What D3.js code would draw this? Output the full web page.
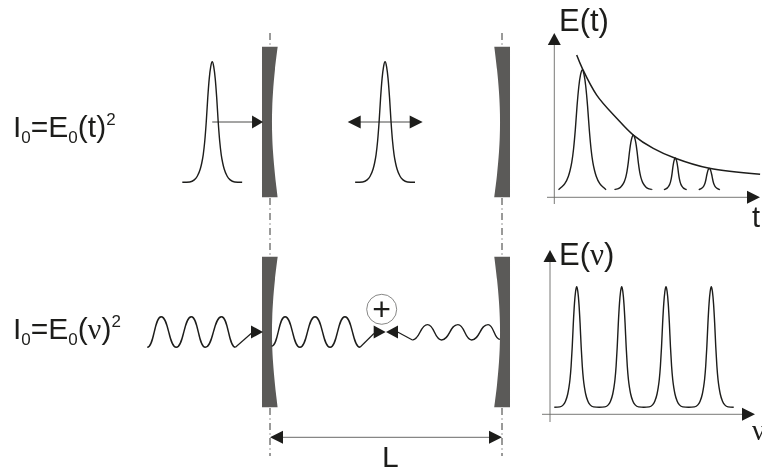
<!DOCTYPE html>
<html>
<head>
<meta charset="utf-8">
<script src="https://cdn.jsdelivr.net/npm/d3@7"></script>
<style>
    html, body { margin: 0; padding: 0; background: #fff; }
    svg { display: block; filter: blur(0.3px); }
    text { font-family: "Liberation Sans", Arial, sans-serif; fill: #1d1d1b; }
    .nu { font-family: "Liberation Serif", serif; }
</style>
</head>
<body>
<div id="grafico"></div>
<script>
// forma del pulso normalizada (desde el centro hacia fuera)
const pulseOffset = [0, 0.05, 0.1, 0.15, 0.2, 0.25, 0.3, 0.35, 0.4, 0.5, 0.6, 0.75, 1];
const pulseHeight = [1, 0.96, 0.86, 0.7, 0.5, 0.34, 0.23, 0.16, 0.11, 0.05, 0.02, 0.003, 0];

// pulsos del esquema de la cavidad (0 = espejo izq, 100 = espejo der)
const cavityPulseCenter = [-24.9, 49.6];
const cavityPulseHalfWidth = [12.9, 12.9];

// panel E(t)
const timeCenter = [14, 39.5, 60.5, 77.5];
const timePeak = [79.6, 38.9, 24.6, 18.1];
const timeHalfWidth = [17.5, 12.5, 8.2, 8.2];
const timeExtent = [11.9, 9.4, 5.7, 5.3];
const timeBase = 4.75;
const envelopeT = [11.2, 14, 21.2, 31.2, 39.5, 49.5, 60.5, 77.5, 102.9];
const envelopeE = [88.9, 80.6, 63.9, 49.4, 38.9, 30.6, 24.4, 18.1, 14.4];

// panel E(nu)
const freqCenter = [13.35, 35.85, 58, 80.65];
const freqPeak = [79.75, 79.75, 79.75, 79.75];
const freqHalfWidth = 11.2;
const freqBase = 4.4;

// ondas: extremos, el ultimo punto es el tramo recto hasta la flecha
const waveInX = [-52.9, -46.9, -40.4, -33.9, -27.9, -20.9, -14.9, -7.4];
const waveInV = [-1, 1, -1, 1, -1, 1, -1, 0];
const waveMidX = [0.7, 6.5, 12.9, 19.4, 25.9, 32.3, 38.8, 44.8];
const waveMidV = [-0.92, 1, -1, 1, -1, 1, -1, -0.1];
const waveBackX = [55, 61.4, 67.9, 73.9, 81, 86.9, 94, 99.1];
const waveBackV = [0, -0.52, 0.48, -0.52, 0.48, -0.52, 0.48, -0.48];

// perfil de los espejos (a lo largo y grosor)
const mirrorAlong = [0, 0.15, 0.3, 0.4, 0.5, 0.6, 0.7, 0.85, 1];
const mirrorThick = [6.77, 5.6, 4.75, 4.42, 4.3, 4.42, 4.75, 5.6, 6.77];
const mirrorBack = 3.45;

const ancho = 762, alto = 467;
const colorLinea = '#1d1d1b', colorEje = '#6a6a68', colorEspejo = '#5b5a58';

const svg = d3.select('#grafico').append('svg')
    .attr('width', ancho)
    .attr('height', alto);

// escalas
const xCav = d3.scaleLinear().domain([0, 100]).range([270, 502]);
const yPulse = d3.scaleLinear().domain([0, 1]).range([182.3, 61.7]);
const yWave = d3.scaleLinear().domain([-1, 1]).range([347.3, 316.7]);
const mirrorTop = d3.scaleLinear().domain([0, 1]).range([46.7, 197.3]);
const mirrorBottom = d3.scaleLinear().domain([0, 1]).range([256.7, 407.3]);
const xT = d3.scaleLinear().domain([0, 100]).range([554.3, 754.3]);
const yT = d3.scaleLinear().domain([0, 100]).range([197.3, 37.3]);
const xF = d3.scaleLinear().domain([0, 100]).range([550, 750]);
const yF = d3.scaleLinear().domain([0, 100]).range([414.3, 254.3]);

const curva = d3.line().curve(d3.curveMonotoneX);
const curvaOnda = d3.line().curve(d3.curveBumpX);

// devuelve los puntos [x, y] de un pulso, ya en unidades de datos
function pulsePoints(center, halfWidth, peak, base, extent) {
    const limite = extent || halfWidth;
    const lado = pulseOffset
        .map((o, i) => [o * halfWidth, base + pulseHeight[i] * (peak - base)])
        .filter(p => p[0] < limite);
    lado.push([limite, base]);
    const left = lado.slice(1).reverse().map(p => [center - p[0], p[1]]);
    const right = lado.map(p => [center + p[0], p[1]]);
    return left.concat(right);
}

function drawPath(points, sx, sy, width, curve) {
    svg.append('path')
        .attr('d', (curve || curva)(points.map(p => [sx(p[0]), sy(p[1])])))
        .attr('fill', 'none')
        .attr('stroke', colorLinea)
        .attr('stroke-width', width || 1.4);
}

function drawLine(x1, y1, x2, y2, color, width) {
    svg.append('line')
        .attr('x1', x1).attr('y1', y1)
        .attr('x2', x2).attr('y2', y2)
        .attr('stroke', color)
        .attr('stroke-width', width);
}

// flecha con la punta en (x, y); dir en grados, 0 = derecha
function arrowHead(x, y, dir, largo, media) {
    svg.append('path')
        .attr('d', 'M0,0L' + (-largo) + ',' + (-media) + 'L' + (-largo) + ',' + media + 'Z')
        .attr('transform', 'translate(' + x + ',' + y + ') rotate(' + dir + ')')
        .attr('fill', colorLinea);
}

// ejes de los espejos, raya y punto
[0, 100].forEach(u => {
    svg.append('line')
        .attr('x1', xCav(u)).attr('y1', 33)
        .attr('x2', xCav(u)).attr('y2', 456)
        .attr('stroke', colorLinea)
        .attr('stroke-width', 0.9)
        .attr('stroke-dasharray', '7,3.5,1,3.5');
});

// espejos
const mirrorShape = (sy, side) => d3.area()
    .curve(d3.curveCatmullRom)
    .y(d => sy(d))
    .x0(() => xCav(side === 0 ? -mirrorBack : 100 + mirrorBack))
    .x1((d, i) => xCav(side === 0 ? -mirrorBack + mirrorThick[i] : 100 + mirrorBack - mirrorThick[i]));

[mirrorTop, mirrorBottom].forEach(sy => {
    [0, 1].forEach(side => {
        svg.append('path')
            .attr('d', mirrorShape(sy, side)(mirrorAlong))
            .attr('fill', colorEspejo);
    });
});

// pulsos de la cavidad
cavityPulseCenter.forEach((c, i) => {
    drawPath(pulsePoints(c, cavityPulseHalfWidth[i], 1, 0), xCav, yPulse);
});

// flechas de arriba
drawLine(xCav(-24.9), 122, 254, 122, colorLinea, 0.8);
arrowHead(xCav(-3), 122, 0, 11, 6.5);
drawLine(358, 122, 412, 122, colorLinea, 0.8);
arrowHead(347.7, 122, 180, 13, 6.5);
arrowHead(422.7, 122, 0, 13, 6.5);

// ondas: parte ondulada con curva, ultimo tramo recto
const zipWave = (xs, vs) => xs.map((x, i) => [x, vs[i]]);
const recta = d3.line();
[zipWave(waveInX, waveInV), zipWave(waveMidX, waveMidV)].forEach(puntos => {
    drawPath(puntos.slice(0, -1), xCav, yWave, 1.4, curvaOnda);
    drawPath(puntos.slice(-2), xCav, yWave, 1.2, recta);
});
const puntosBack = zipWave(waveBackX, waveBackV);
drawPath(puntosBack.slice(1), xCav, yWave, 1.4, curvaOnda);
drawPath(puntosBack.slice(0, 2), xCav, yWave, 1.2, recta);
arrowHead(263, 332, 0, 12, 6.5);
arrowHead(385.7, 332, 0, 12, 6.5);
arrowHead(386, 332, 180, 12, 6.5);

// suma
svg.append('circle')
    .attr('cx', 381.7).attr('cy', 309.3).attr('r', 15)
    .attr('fill', '#fff')
    .attr('stroke', colorEje)
    .attr('stroke-width', 0.8);
svg.append('text')
    .attr('x', 381.7).attr('y', 320)
    .attr('text-anchor', 'middle')
    .attr('font-size', 32)
    .text('+');

// cota L
drawLine(280, 437.3, 492, 437.3, colorEje, 1);
arrowHead(xCav(0), 437.3, 180, 13, 6.5);
arrowHead(xCav(100), 437.3, 0, 13, 6.5);
svg.append('text').attr('x', 382).attr('y', 467).attr('font-size', 30).text('L');

// panel E(t)
drawLine(547, yT(0), 750, yT(0), colorEje, 0.9);
drawLine(xT(0), 204, xT(0), 40, colorEje, 0.9);
arrowHead(xT(0), 33, -90, 12, 6.5);
arrowHead(760, yT(0), 0, 13, 6.5);
timeCenter.forEach((c, i) => {
    drawPath(pulsePoints(c, timeHalfWidth[i], timePeak[i], timeBase, timeExtent[i]), xT, yT);
});
drawPath(zipWave(envelopeT, envelopeE), xT, yT, 1.5, d3.line().curve(d3.curveCatmullRom));

// panel E(nu)
drawLine(542, yF(0), 746, yF(0), colorEje, 0.9);
drawLine(xF(0), 422, xF(0), 258, colorEje, 0.9);
arrowHead(xF(0), 250, -90, 12, 6.5);
arrowHead(755, yF(0), 0, 13, 6.5);
let combPoints = [];
freqCenter.forEach((c, i) => {
    combPoints = combPoints.concat(pulsePoints(c, freqHalfWidth, freqPeak[i], freqBase));
});
drawPath(combPoints, xF, yF);

// textos
function formula(y, parts) {
    const t = svg.append('text').attr('x', 13).attr('y', y).attr('font-size', 30);
    let nivel = 0;
    parts.forEach(p => {
        const dy = p.sub ? 6 : p.sup ? -12 : 0;
        const s = t.append('tspan')
            .attr('dy', dy - nivel)
            .attr('font-size', p.sub || p.sup ? 17 : 30)
            .text(p.s);
        if (p.nu) s.attr('class', 'nu');
        nivel = dy;
    });
}

formula(137.3, [{ s: 'I' }, { s: '0', sub: true }, { s: '=E' }, { s: '0', sub: true }, { s: '(t)' }, { s: '2', sup: true }]);
formula(339.3, [{ s: 'I' }, { s: '0', sub: true }, { s: '=E' }, { s: '0', sub: true }, { s: '(' }, { s: 'ν', nu: true }, { s: ')' }, { s: '2', sup: true }]);

svg.append('text').attr('x', 559).attr('y', 31).attr('font-size', 31).text('E(t)');
svg.append('text').attr('x', 752).attr('y', 227).attr('font-size', 29).text('t');
const tituloF = svg.append('text').attr('x', 559).attr('y', 265).attr('font-size', 31);
tituloF.append('tspan').text('E(');
tituloF.append('tspan').attr('class', 'nu').text('ν');
tituloF.append('tspan').text(')');
svg.append('text').attr('class', 'nu').attr('x', 752).attr('y', 440).attr('font-size', 29).text('ν');
</script>
</body>
</html>
